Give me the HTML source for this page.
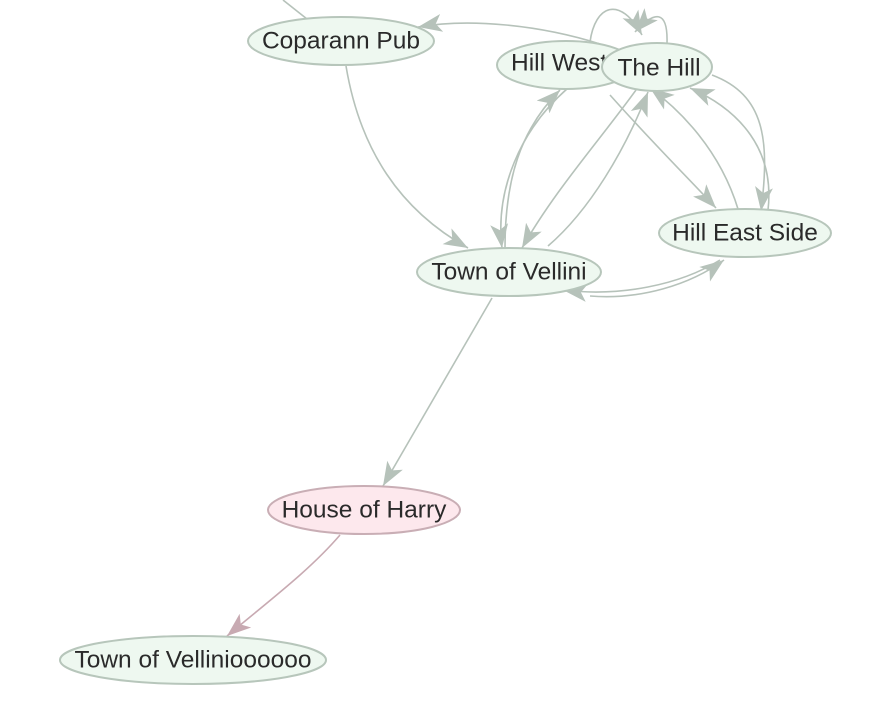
<!DOCTYPE html>
<html><head><meta charset="utf-8"><style>
html,body{margin:0;padding:0;background:#fff;width:886px;height:704px;overflow:hidden}
text{font-family:"Liberation Sans",Arial,sans-serif;font-size:24.5px;fill:#2a2a2a;text-anchor:middle;dominant-baseline:central}
</style></head><body>
<svg width="886" height="704" viewBox="0 0 886 704" xmlns="http://www.w3.org/2000/svg">
<defs>
<marker id="a" markerUnits="userSpaceOnUse" markerWidth="28" markerHeight="22" refX="24" refY="11" orient="auto" viewBox="0 0 28 22"><path d="M0,2 L24,11 L0,20 L6,11 Z" fill="#b6c2ba"/></marker>
<marker id="p" markerUnits="userSpaceOnUse" markerWidth="28" markerHeight="22" refX="24" refY="11" orient="auto" viewBox="0 0 28 22"><path d="M0,2 L24,11 L0,20 L6,11 Z" fill="#c8aab2"/></marker>
</defs>
<g fill="none" stroke="#b6c2ba" stroke-width="1.6">
<path d="M283,0 L307,19"/>
<path d="M600,44 C540,25 470,18 418,27" marker-end="url(#a)"/>
<path d="M346,66 C360,150 400,210 468,248" marker-end="url(#a)"/>
<path d="M590,42 C595,5 620,-5 642,35" marker-end="url(#a)"/>
<path d="M667,43 C668,10 655,10 635,32" marker-end="url(#a)"/>
<path d="M568,88 C520,130 495,190 502,248" marker-end="url(#a)"/>
<path d="M505,248 C505,180 520,130 560,90" marker-end="url(#a)"/>
<path d="M636,90 C600,140 555,190 522,248" marker-end="url(#a)"/>
<path d="M548,246 C590,210 625,150 648,92" marker-end="url(#a)"/>
<path d="M610,95 C650,140 690,180 716,208" marker-end="url(#a)"/>
<path d="M738,209 C720,150 680,110 650,88" marker-end="url(#a)"/>
<path d="M712,75 C765,95 770,140 761,211" marker-end="url(#a)"/>
<path d="M768,210 C775,150 740,110 690,88" marker-end="url(#a)"/>
<path d="M720,260 C680,285 620,297 563,290" marker-end="url(#a)"/>
<path d="M590,296 C640,300 690,285 724,260" marker-end="url(#a)"/>
<path d="M492,298 L383,486" marker-end="url(#a)"/>
</g>
<path d="M340,535 C310,570 270,600 227,636" fill="none" stroke="#c8aab2" stroke-width="1.6" marker-end="url(#p)"/>
<g stroke-width="2">
<ellipse cx="341" cy="41" rx="93" ry="24" fill="#eef8f0" stroke="#b7c6bb"/>
<ellipse cx="566" cy="65" rx="69" ry="24" fill="#eef8f0" stroke="#b7c6bb"/>
<ellipse cx="745" cy="233" rx="86" ry="24" fill="#eef8f0" stroke="#b7c6bb"/>
<ellipse cx="509" cy="272" rx="92" ry="24" fill="#eef8f0" stroke="#b7c6bb"/>
<ellipse cx="364" cy="510" rx="96" ry="24" fill="#fde8ed" stroke="#c9aeb5"/>
<ellipse cx="193" cy="660" rx="133" ry="24" fill="#eef8f0" stroke="#b7c6bb"/>
</g>
<text x="341" y="41">Coparann Pub</text>
<text x="511" y="63" style="text-anchor:start">Hill West</text>
<ellipse cx="657" cy="67" rx="55" ry="24" fill="#eef8f0" stroke="#b7c6bb" stroke-width="2"/>
<text x="659" y="68">The Hill</text>
<text x="745" y="233">Hill East Side</text>
<text x="509" y="272">Town of Vellini</text>
<text x="364" y="510">House of Harry</text>
<text x="193" y="660">Town of Vellinioooooo</text>
</svg>
</body></html>
